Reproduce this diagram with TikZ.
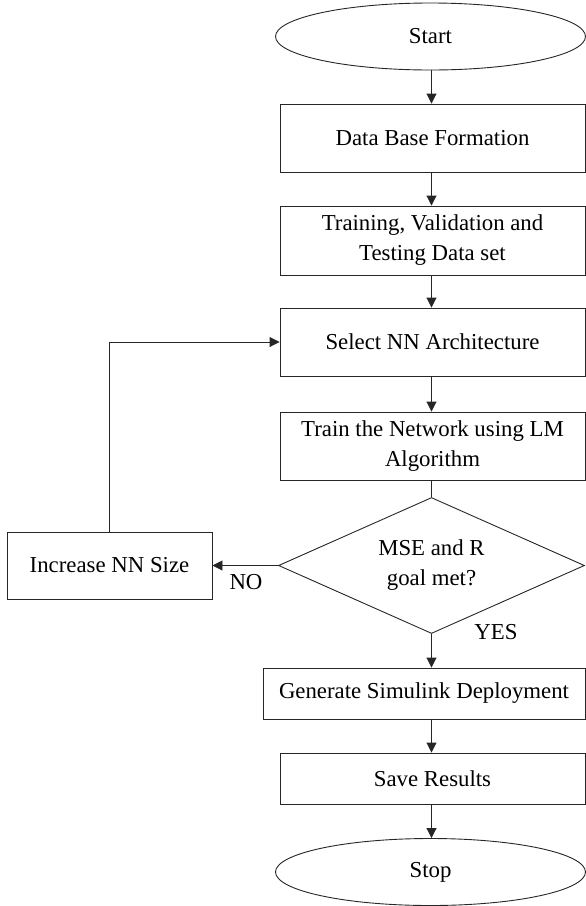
\documentclass[tikz,border=0pt]{standalone}
\usepackage{fontspec}
\setmainfont{Liberation Serif}
\usetikzlibrary{shapes.geometric,arrows.meta}

\tikzset{
  ln/.style={draw=black!85, line width=0.9pt},
  flowbox/.style={ln, rectangle, inner sep=0pt, align=center},
  term/.style={ln, ellipse, inner sep=0pt, minimum width=310pt, minimum height=67pt},
  decide/.style={ln, diamond, inner sep=0pt, aspect=2.25, align=center,
                 minimum width=306pt, minimum height=136pt},
  flow/.style={ln, -{Triangle[length=10pt,width=10pt]}},
  lbl/.style={inner sep=0pt}
}

\begin{document}
\begin{tikzpicture}[x=1pt, y=-1pt,
  every node/.append style={font=\fontsize{22.8}{30}\selectfont}]
  \useasboundingbox (0,0) rectangle (586,906);

  % main column
  \node[term] (start) at (430.5,36.5) {Start};
  \node[flowbox, minimum width=305pt, minimum height=68pt] (db) at (432.5,138) {Data Base Formation};
  \node[flowbox, minimum width=305pt, minimum height=69pt] (tvt) at (432.5,240.5) {Training, Validation and\\Testing Data set};
  \node[flowbox, minimum width=305pt, minimum height=68pt] (sel) at (432.5,342) {Select NN Architecture};
  \node[flowbox, minimum width=305pt, minimum height=68pt] (train) at (432.5,446) {Train the Network using LM\\Algorithm};
  \node[decide] (dec) at (431.5,565.5) {MSE and R\\goal met?};
  \node[flowbox, minimum width=322pt, minimum height=51pt] (gen) at (424,693.5) {Generate Simulink Deployment};
  \node[flowbox, minimum width=305pt, minimum height=51pt] (save) at (432.5,778.5) {Save Results};
  \node[term] (stop) at (430.5,872) {Stop};

  % loop-back box
  \node[flowbox, minimum width=205pt, minimum height=67pt] (inc) at (109.5,565.5) {Increase NN Size};

  % branch labels
  \node[lbl] (no) at (246,582) {NO};
  \node[lbl] (yes) at (496,632) {YES};

  % connectors (main axis at x = 431.5)
  \coordinate (ax) at (431.5,0);
  \draw[flow] (ax |- start.south) -- (ax |- db.north);
  \draw[flow] (ax |- db.south) -- (ax |- tvt.north);
  \draw[flow] (ax |- tvt.south) -- (ax |- sel.north);
  \draw[flow] (ax |- sel.south) -- (ax |- train.north);
  \draw[ln] (ax |- train.south) -- (dec.north);
  \draw[flow] (dec.west) -- (dec.west -| inc.east);
  \draw[flow] (inc.north) -- (inc.north |- sel.west) -- (sel.west);
  \draw[flow] (dec.south) -- (dec.south |- gen.north);
  \draw[flow] (ax |- gen.south) -- (ax |- save.north);
  \draw[flow] (ax |- save.south) -- (ax |- stop.north);
\end{tikzpicture}
\end{document}
